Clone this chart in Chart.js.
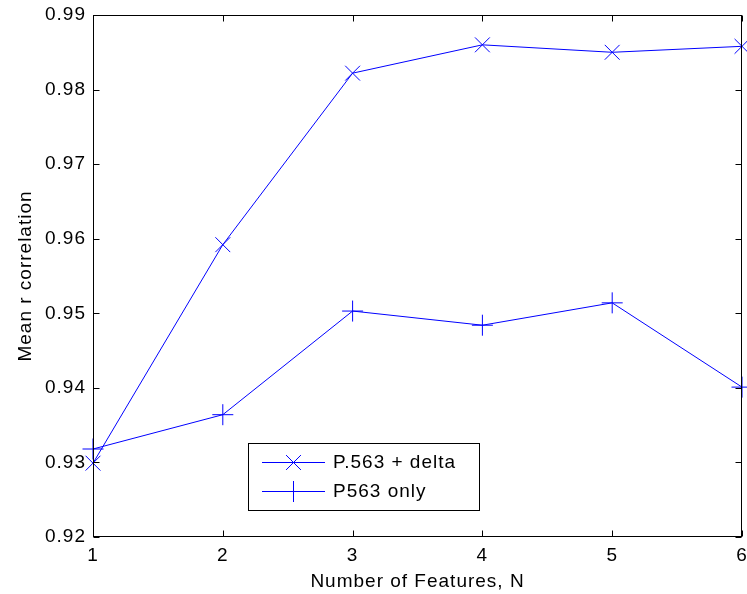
<!DOCTYPE html>
<html>
<head>
<meta charset="utf-8">
<script src="https://cdn.jsdelivr.net/npm/chart.js@4"></script>
<style>
html, body { margin: 0; padding: 0; background: #fff; overflow: hidden; }
#wrap { width: 747px; height: 594px; }
</style>
</head>
<body>
<div id="wrap"><canvas id="myChart" width="747" height="594"></canvas></div>
<script>
// data
var features = [1, 2, 3, 4, 5, 6];
var withDelta = [0.9299, 0.9592, 0.9822, 0.9860, 0.9850, 0.9858];
var p563Only = [0.9318, 0.9364, 0.9503, 0.9484, 0.9514, 0.9401];
var yTicks = [0.92, 0.93, 0.94, 0.95, 0.96, 0.97, 0.98, 0.99];
var xTitle = 'Number of Features, N';

var FONT = '"Liberation Sans", Arial, sans-serif';

// wider letter spacing like the matlab export
var spacingPlugin = {
  id: 'spacing',
  beforeUpdate: function (chart) { chart.ctx.letterSpacing = '1px'; },
  beforeDraw: function (chart) { chart.ctx.letterSpacing = '1px'; }
};

// matlab-ish box with inward ticks + legend inside the axes
var boxPlugin = {
  id: 'box',
  afterDraw: function (chart) {
    var c = chart.ctx, a = chart.chartArea;
    var xs = chart.scales.x, ys = chart.scales.y;
    c.save();
    c.strokeStyle = '#000';
    c.lineWidth = 1;
    var L = Math.round(a.left) + 0.5, R = Math.round(a.right) - 0.5;
    var T = Math.round(a.top) + 0.5, B = Math.round(a.bottom) - 0.5;
    c.strokeRect(L, T, R - L, B - T);
    c.beginPath();
    features.forEach(function (v) {
      var px = Math.round(xs.getPixelForValue(v)) + 0.5;
      c.moveTo(px, B); c.lineTo(px, B - 6);
      c.moveTo(px, T); c.lineTo(px, T + 6);
    });
    yTicks.forEach(function (v) {
      var py = Math.round(ys.getPixelForValue(v)) + 0.5;
      c.moveTo(L, py); c.lineTo(L + 6, py);
      c.moveTo(R, py); c.lineTo(R - 6, py);
    });
    c.stroke();

    c.font = '19px ' + FONT;
    c.letterSpacing = '1px';
    c.fillStyle = '#000';

    // x axis title, centred under the axes
    c.textAlign = 'left';
    c.textBaseline = 'alphabetic';
    var tw = c.measureText(xTitle).width;
    c.fillText(xTitle, (a.left + a.right) / 2 - tw / 2, 587);

    // legend
    var lx = 248.5, ly = 443.5, lw = 231, lh = 67;
    c.fillStyle = '#fff';
    c.fillRect(lx, ly, lw, lh);
    c.strokeRect(lx, ly, lw, lh);
    c.textBaseline = 'middle';
    chart.data.datasets.forEach(function (ds, i) {
      var y = 462 + i * 29;
      c.strokeStyle = ds.borderColor;
      c.lineWidth = 1;
      c.beginPath();
      c.moveTo(262, y + 0.5); c.lineTo(325, y + 0.5);
      c.stroke();
      Chart.helpers.drawPoint(c, {pointStyle: ds.pointStyle, radius: ds.pointRadius, borderWidth: 1}, 293.5, y + 0.5);
      c.fillStyle = '#000';
      c.fillText(ds.label, 333, y + 1);
    });
    c.restore();
  }
};

var ctx = document.getElementById('myChart').getContext('2d');
var chart = new Chart(ctx, {
  type: 'line',
  data: {
    labels: features,
    datasets: [{
      label: 'P.563 + delta',
      data: features.map(function (x, i) { return {x: x, y: withDelta[i]}; }),
      borderColor: 'rgb(0, 0, 255)',
      backgroundColor: 'rgb(0, 0, 255)',
      borderWidth: 1,
      pointStyle: 'crossRot',
      pointRadius: 10.5,
      pointBorderWidth: 1,
      tension: 0,
      clip: false
    }, {
      label: 'P563 only',
      data: features.map(function (x, i) { return {x: x, y: p563Only[i]}; }),
      borderColor: 'rgb(0, 0, 255)',
      backgroundColor: 'rgb(0, 0, 255)',
      borderWidth: 1,
      pointStyle: 'cross',
      pointRadius: 10.5,
      pointBorderWidth: 1,
      tension: 0,
      clip: false
    }]
  },
  options: {
    responsive: false,
    animation: false,
    layout: { autoPadding: false, padding: { top: 15, left: 0, right: 5, bottom: 0 } },
    plugins: { legend: { display: false }, tooltip: { enabled: false } },
    scales: {
      x: {
        type: 'linear',
        min: 1, max: 6,
        grid: { display: false, drawTicks: false, tickLength: 0 },
        border: { display: false },
        ticks: { stepSize: 1, padding: 7, color: '#000', font: { family: FONT, size: 19 } },
        title: { display: false },
        afterFit: function (s) { s.height = 57; s.paddingLeft = 0; s.paddingRight = 0; }
      },
      y: {
        min: 0.92, max: 0.99,
        grid: { display: false, drawTicks: false, tickLength: 0 },
        border: { display: false },
        afterBuildTicks: function (s) { s.ticks = yTicks.map(function (v) { return {value: v}; }); },
        ticks: { padding: 7, color: '#000', font: { family: FONT, size: 19 },
          callback: function (v) { return v.toFixed(2); } },
        title: { display: true, text: 'Mean r correlation', color: '#000', padding: { top: 14, bottom: 0 }, font: { family: FONT, size: 19 } },
        afterFit: function (s) { s.width = 93; s.paddingTop = 0; s.paddingBottom = 0; }
      }
    }
  },
  plugins: [spacingPlugin, boxPlugin]
});
</script>
</body>
</html>
